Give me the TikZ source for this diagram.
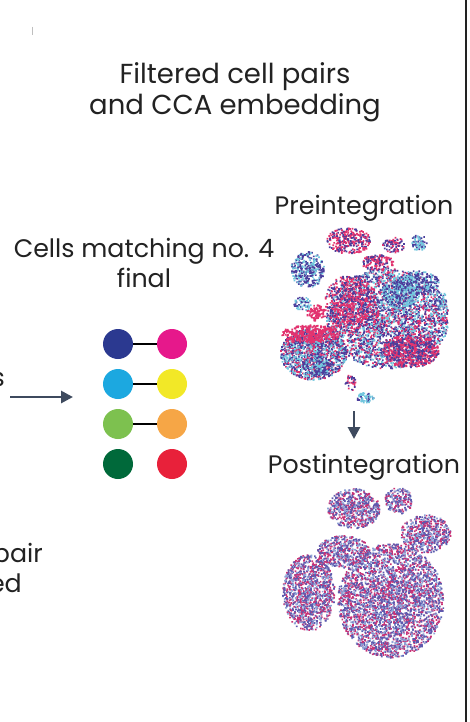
\documentclass[tikz,border=0pt]{standalone}
\usepackage{fontspec}
\setmainfont{Poppins}
\usetikzlibrary{arrows.meta}
\definecolor{ink}{HTML}{222222}
\definecolor{slate}{HTML}{3E4A5E}
\definecolor{dnavy}{HTML}{2B3990}
\definecolor{dmag}{HTML}{E6188B}
\definecolor{dcyan}{HTML}{1CA8E0}
\definecolor{dyel}{HTML}{F2E827}
\definecolor{dgreen}{HTML}{7DC14F}
\definecolor{dorange}{HTML}{F6A646}
\definecolor{ddark}{HTML}{00693A}
\definecolor{dred}{HTML}{E8213A}
\definecolor{pnavy}{HTML}{4B3E9C}
\definecolor{pmag}{HTML}{E2336F}
\definecolor{pcyan}{HTML}{72C7DE}
\definecolor{qmag}{HTML}{C93276}
\definecolor{qblue}{HTML}{5E5AAE}
\definecolor{qlight}{HTML}{8FA3D6}
\pgfmathsetseed{4242}
% one path of random dots: cx, cy, rx, ry, count, colour
\newcommand{\cloud}[6]{%
  \fill[#6] \foreach \i [evaluate=\i as \rr using {rnd^0.55},
                         evaluate=\i as \aa using {360*rnd}] in {1,...,#5}
    {({#1+#3*\rr*cos(\aa)},{#2+#4*\rr*sin(\aa)}) rectangle ++(1.7,1.7)};}
% mixed cloud: count per colour and pass, colour list
\newcommand{\cloudmix}[6]{%
  \foreach \pass in {1,2}{\foreach \c in {#6}{\cloud{#1}{#2}{#3}{#4}{#5}{\c}}}}
\tikzset{
  txt/.style={text=ink,inner sep=0pt,font=\fontsize{25.3}{30}\selectfont},
  dot/.style={circle,inner sep=0pt,minimum size=30pt},
  arr/.style={draw=slate,line width=2.8pt,-{Triangle[length=12pt,width=12pt]}}
}
\begin{document}
\begin{tikzpicture}[x=1pt,y=-1pt]
\useasboundingbox[fill=white] (0,0) rectangle (469,722);
\draw[gray!50,line width=0.8pt] (32,27) -- (32,35);
\draw[ink,line width=2pt] (466,0) -- (466,722);
% headings
\node[txt,anchor=north,align=center,font=\fontsize{27.5}{31}\selectfont] (title) at (235,62) {Filtered cell pairs\\and CCA embedding};
\node[txt,anchor=north,align=center] (match) at (144,238) {Cells matching no. 4\\final};
\node[txt,anchor=base] (pre) at (364,214) {Preintegration};
\node[txt,anchor=base] (post) at (364,473) {Postintegration};
% cut-off texts at the left edge
\node[txt,anchor=base east] (cut1) at (5,386) {s};
\node[txt,anchor=base east] (cut2) at (43,562) {pair};
\node[txt,anchor=base east] (cut3) at (22,592) {ed};
% matched cells
\foreach \row/\lc/\rc in {1/dnavy/dmag,2/dcyan/dyel,3/dgreen/dorange,4/ddark/dred}{
  \node[dot,fill=\lc] (l\row) at (118,{304+40*\row}) {};
  \node[dot,fill=\rc] (r\row) at (172,{304+40*\row}) {};
}
\foreach \row in {1,2,3} \draw[line width=1.5pt] (l\row) -- (r\row);
\coordinate (in1) at (10,397);
\coordinate (in2) at (73,397);
\draw[arr] (in1) -- (in2);
% preintegration embedding
\cloudmix{348}{240}{22}{13}{50}{pmag,pmag,pnavy}
\cloudmix{393}{244}{11}{8}{22}{pmag,pnavy}
\cloudmix{418}{242}{8}{8}{18}{pnavy,pcyan}
\cloudmix{307}{269}{17}{18}{55}{pnavy,pnavy,pcyan}
\cloudmix{377}{262}{16}{8}{24}{pmag,pmag,pnavy}
\cloudmix{387}{318}{61}{50}{380}{pnavy,pnavy,pmag,pcyan}
\cloudmix{350}{302}{26}{28}{100}{pmag,pmag,pnavy}
\cloudmix{400}{292}{18}{16}{60}{pcyan,pcyan,pnavy}
\cloudmix{418}{282}{20}{12}{40}{pnavy,pnavy,pcyan}
\cloudmix{410}{350}{28}{17}{110}{pmag,pmag,pnavy}
\cloudmix{302}{303}{9}{7}{15}{pnavy,pcyan}
\cloud{316}{312}{10}{8}{90}{pmag}
\cloudmix{313}{353}{33}{26}{160}{pnavy,pnavy,pmag,pcyan}
\cloud{310}{333}{30}{9}{300}{pmag}
\cloudmix{318}{365}{16}{10}{30}{pnavy,pnavy,pcyan}
\cloudmix{350}{382}{6}{8}{10}{pmag,pnavy}
\cloudmix{364}{397}{9}{5}{10}{pnavy,pcyan,pcyan}
\cloudmix{440}{300}{6}{9}{10}{pnavy,pcyan}
\coordinate (down1) at (354,411);
\coordinate (down2) at (354,439);
\draw[arr] (down1) -- (down2);
% postintegration embedding
\cloudmix{353}{508}{26}{20}{60}{qmag,qmag,qblue,qblue,qlight}
\cloudmix{398}{500}{14}{13}{20}{qmag,qmag,qblue,qblue,qlight}
\cloudmix{425}{533}{25}{19}{50}{qmag,qmag,qblue,qblue,qlight}
\cloudmix{308}{592}{26}{38}{110}{qmag,qmag,qblue,qblue,qlight}
\cloudmix{390}{600}{53}{57}{330}{qmag,qmag,qblue,qblue,qlight}
\cloudmix{343}{551}{26}{16}{45}{qmag,qmag,qblue,qblue,qlight}
\end{tikzpicture}
\end{document}
